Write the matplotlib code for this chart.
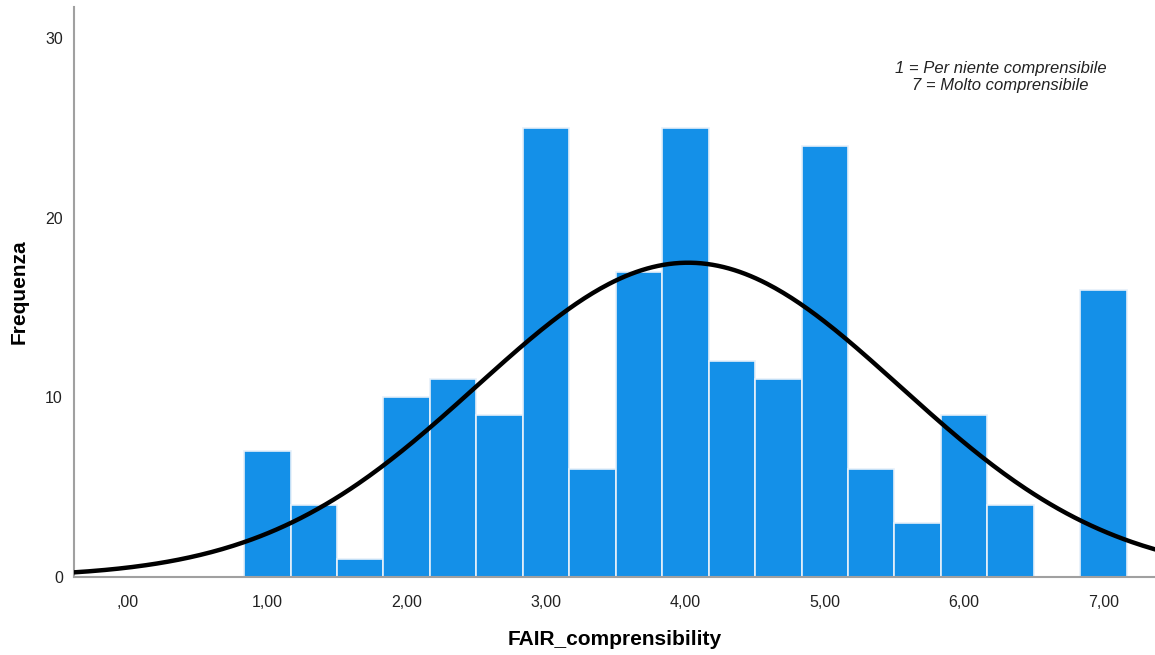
import numpy as np
import matplotlib
matplotlib.use("Agg")
import matplotlib.pyplot as plt

plt.rcParams['font.family'] = ['Liberation Sans', 'DejaVu Sans']

# Data
bin_centers = [1.0, 4/3, 5/3, 2.0, 7/3, 8/3, 3.0, 10/3, 11/3, 4.0, 13/3, 14/3,
               5.0, 16/3, 17/3, 6.0, 19/3, 20/3, 7.0]
counts = [7, 4, 1, 10, 11, 9, 25, 6, 17, 25, 12, 11, 24, 6, 3, 9, 4, 0, 16]
bin_width = 1/3
curve_mean = 4.02
curve_sd = 1.52
xtick_vals = [0, 1, 2, 3, 4, 5, 6, 7]
xtick_labels = [",00", "1,00", "2,00", "3,00", "4,00", "5,00", "6,00", "7,00"]
ytick_vals = [0, 10, 20, 30]

fig = plt.figure(figsize=(11.55, 6.55), dpi=100)
ax = fig.add_axes([0.064, 0.119, 0.936, 0.870])

ax.bar(bin_centers, counts, width=bin_width, color='#1490E8',
       edgecolor='#E6F0FA', linewidth=1.2, zorder=2)

n = sum(counts)
xs = np.linspace(-0.4, 7.4, 400)
ys = n * bin_width / (curve_sd * np.sqrt(2 * np.pi)) * np.exp(-(xs - curve_mean) ** 2 / (2 * curve_sd ** 2))
ax.plot(xs, ys, color='black', linewidth=3.2, zorder=3)

ax.set_xlim(-0.388, 7.37)
ax.set_ylim(0, 31.72)
ax.set_xticks(xtick_vals)
ax.set_xticklabels(xtick_labels)
ax.set_yticks(ytick_vals)
ax.tick_params(axis='both', length=0, labelsize=11.5, colors='#222222')
ax.tick_params(axis='x', pad=13)
ax.tick_params(axis='y', pad=8)

for s in ['top', 'right']:
    ax.spines[s].set_visible(False)
for s in ['left', 'bottom']:
    ax.spines[s].set_color('#A0A0A0')
    ax.spines[s].set_linewidth(1.5)

ax.set_xlabel('FAIR_comprensibility', fontsize=15, fontweight='bold', labelpad=14)
ax.set_ylabel('Frequenza', fontsize=15, fontweight='bold', labelpad=12)

ax.text(0.857, 0.877, '1 = Per niente comprensibile\n7 = Molto comprensibile',
        transform=ax.transAxes, ha='center', va='center', fontsize=12,
        style='italic', color='#222222', linespacing=1.15)

fig.savefig('out.png', dpi=100)
